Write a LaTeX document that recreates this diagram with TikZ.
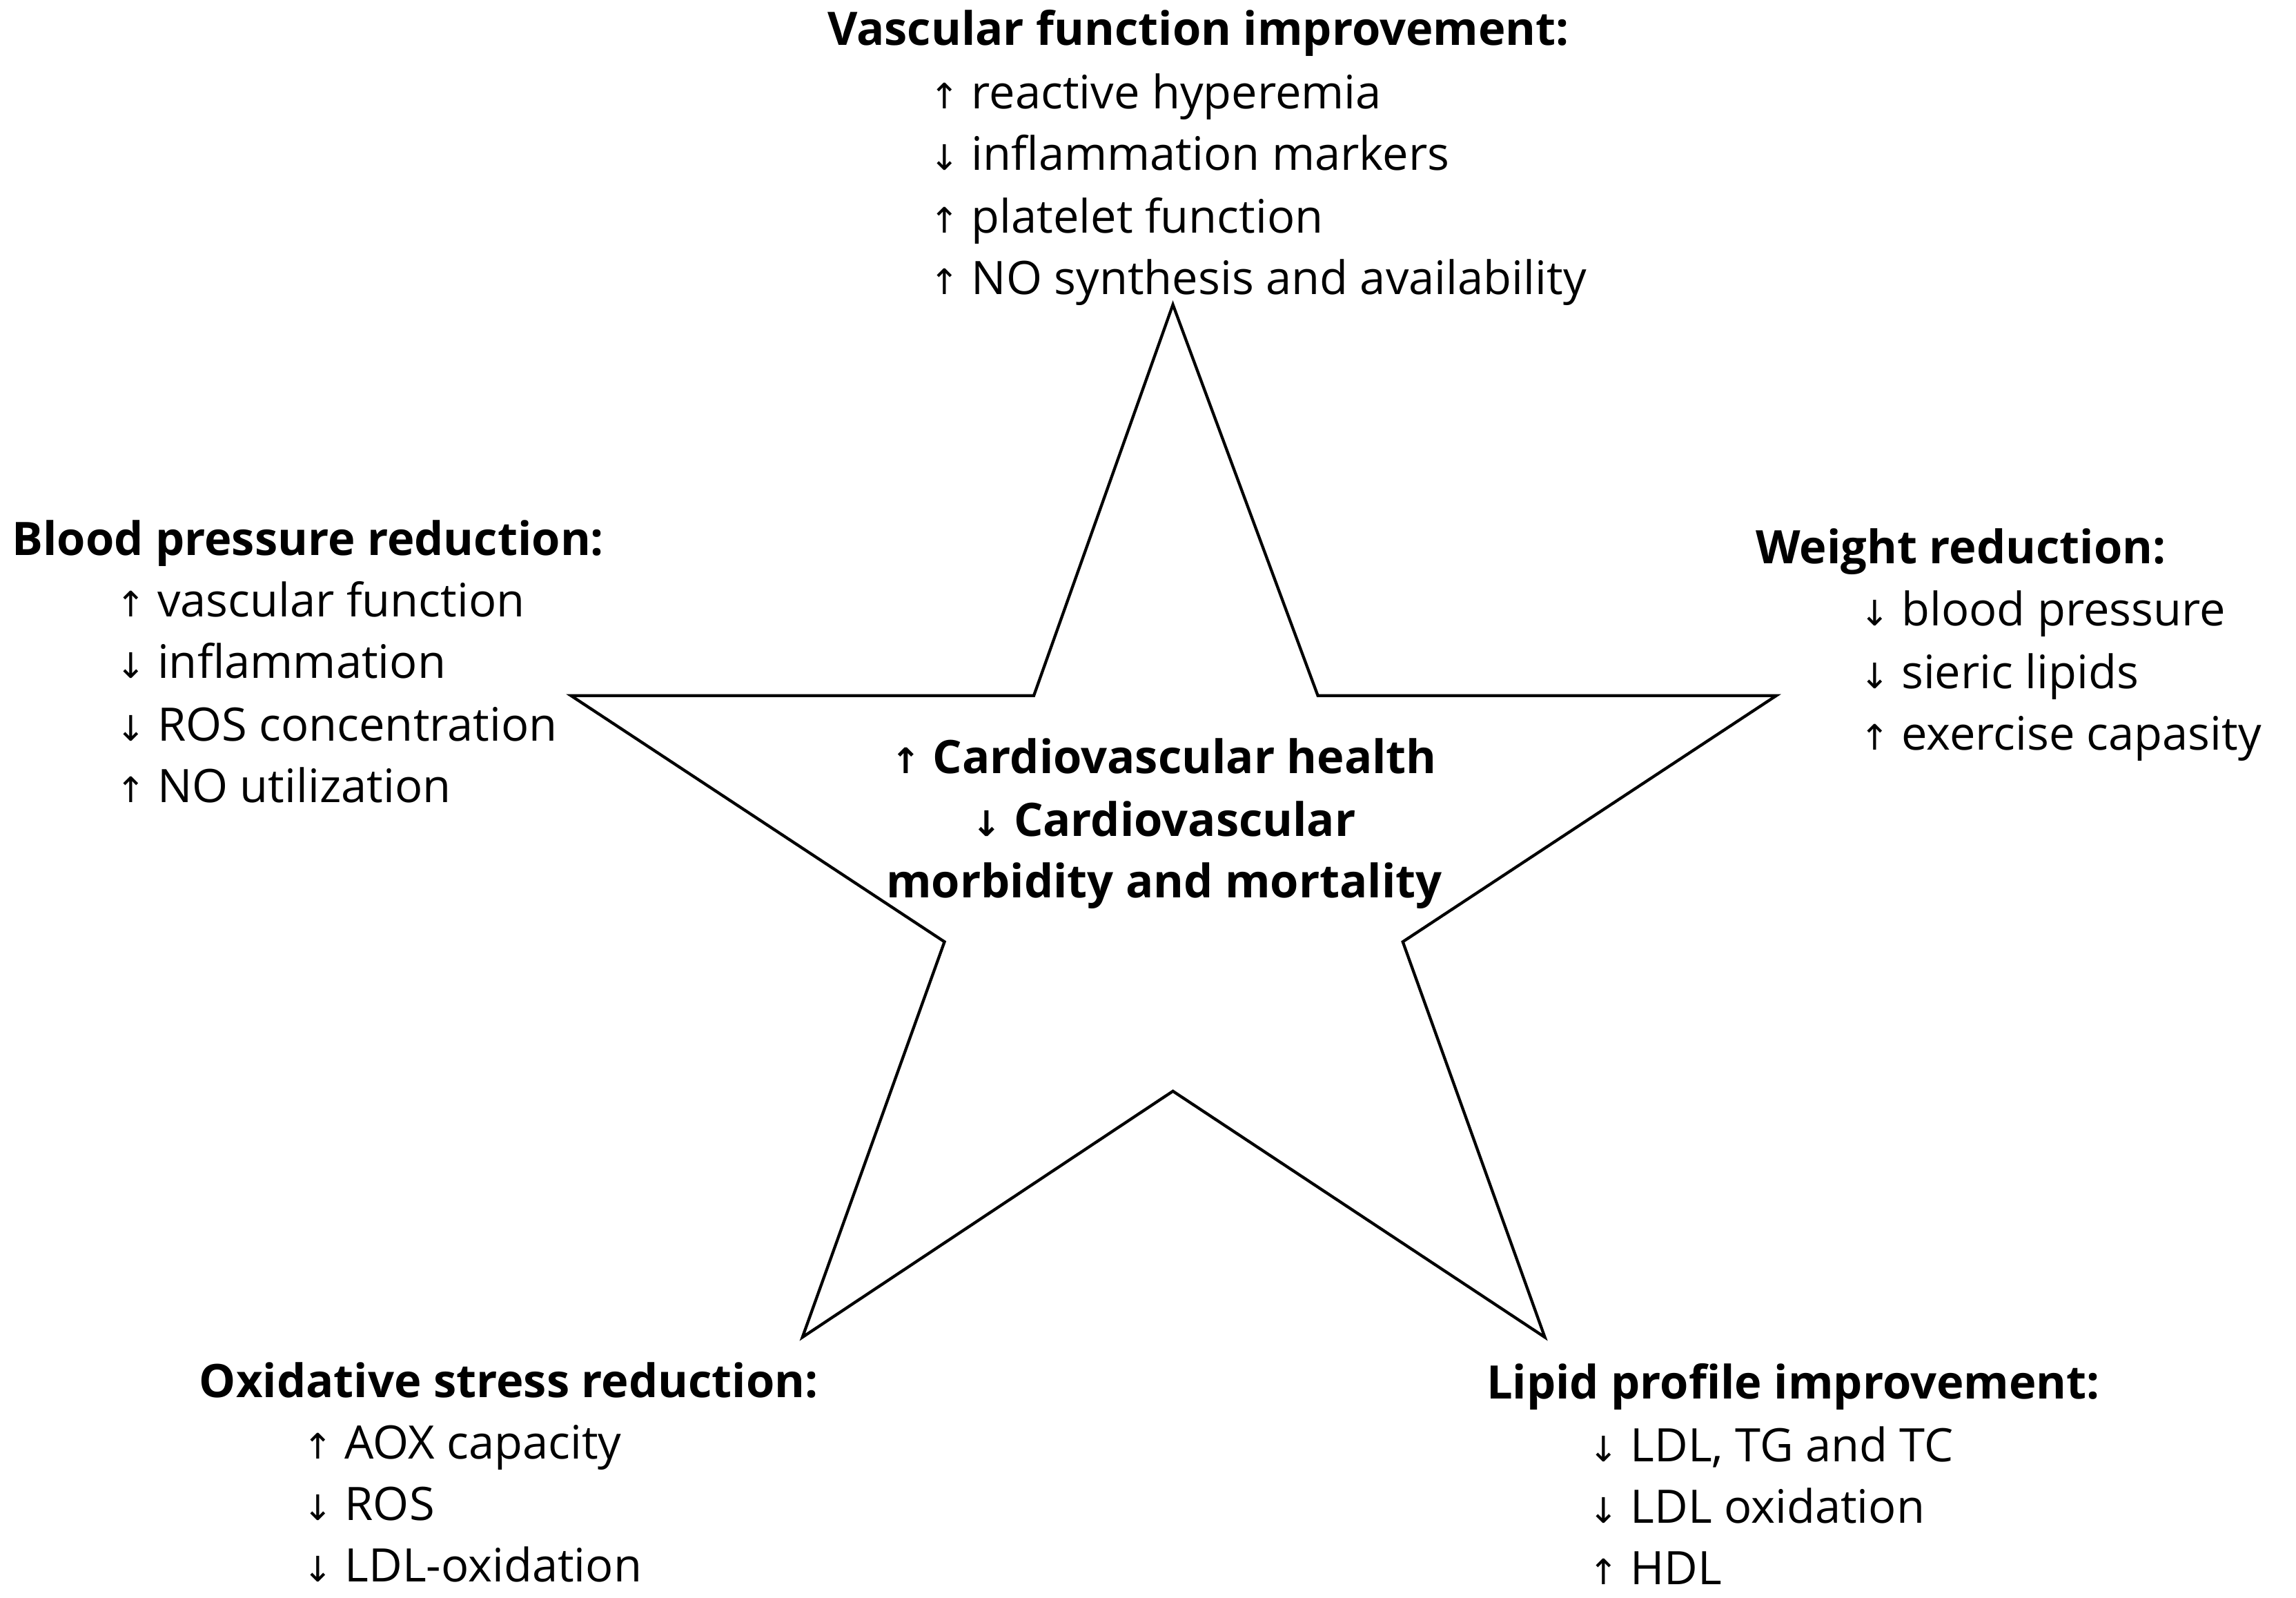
\documentclass[tikz,border=0pt]{standalone}
\usepackage{fontspec}
\setmainfont{Open Sans}
\newfontfamily\arr{DejaVu Sans}
\newcommand{\up}{{\arr\fontsize{24}{26}\selectfont ↑}}
\newcommand{\dn}{{\arr\fontsize{24}{26}\selectfont ↓}}
\begin{document}
\begin{tikzpicture}[x=1pt,y=-1pt,
  t/.style={anchor=base west,inner sep=0pt,font=\fontsize{31.5}{36}\selectfont\bfseries},
  i/.style={anchor=base west,inner sep=0pt,font=\fontsize{31.5}{36}\selectfont},
  c/.style={anchor=base,inner sep=0pt,font=\fontsize{31.5}{36}\selectfont\bfseries}]
\useasboundingbox (0,0) rectangle (1568,1091);
\draw[line width=2pt,line join=miter]
 (801,208) -- (900,475) -- (1213,475) -- (958,643) -- (1055,913) -- (801,745)
 -- (548,913) -- (645,643) -- (390,475) -- (706,475) -- cycle;
% top
\node[t] (vt) at (565,31) {Vascular function improvement:};
\node[i] (v1) at (635,74) {\up\ reactive hyperemia};
\node[i] (v2) at (635,116) {\dn\ inflammation markers};
\node[i] (v3) at (635,159) {\up\ platelet function};
\node[i] (v4) at (635,201) {\up\ NO synthesis and availability};
% left
\node[t] (bt) at (8,379) {Blood pressure reduction:};
\node[i] (b1) at (79,421) {\up\ vascular function};
\node[i] (b2) at (79,463) {\dn\ inflammation};
\node[i] (b3) at (79,506) {\dn\ ROS concentration};
\node[i] (b4) at (79,548) {\up\ NO utilization};
% right
\node[t] (wt) at (1199,385) {Weight reduction:};
\node[i] (w1) at (1270,427) {\dn\ blood pressure};
\node[i] (w2) at (1270,470) {\dn\ sieric lipids};
\node[i] (w3) at (1270,512) {\up\ exercise capasity};
% bottom left
\node[t] (ot) at (136,954) {Oxidative stress reduction:};
\node[i] (o1) at (207,996) {\up\ AOX capacity};
\node[i] (o2) at (207,1038) {\dn\ ROS};
\node[i] (o3) at (207,1080) {\dn\ LDL-oxidation};
% bottom right
\node[t] (lt) at (1015,955) {Lipid profile improvement:};
\node[i] (l1) at (1085,998) {\dn\ LDL, TG and TC};
\node[i] (l2) at (1085,1040) {\dn\ LDL oxidation};
\node[i] (l3) at (1085,1082) {\up\ HDL};
% centre
\node[c] (c1) at (795,528) {\up\ Cardiovascular health};
\node[c] (c2) at (795,571) {\dn\ Cardiovascular};
\node[c] (c3) at (795,613) {morbidity and mortality};
\end{tikzpicture}
\end{document}
